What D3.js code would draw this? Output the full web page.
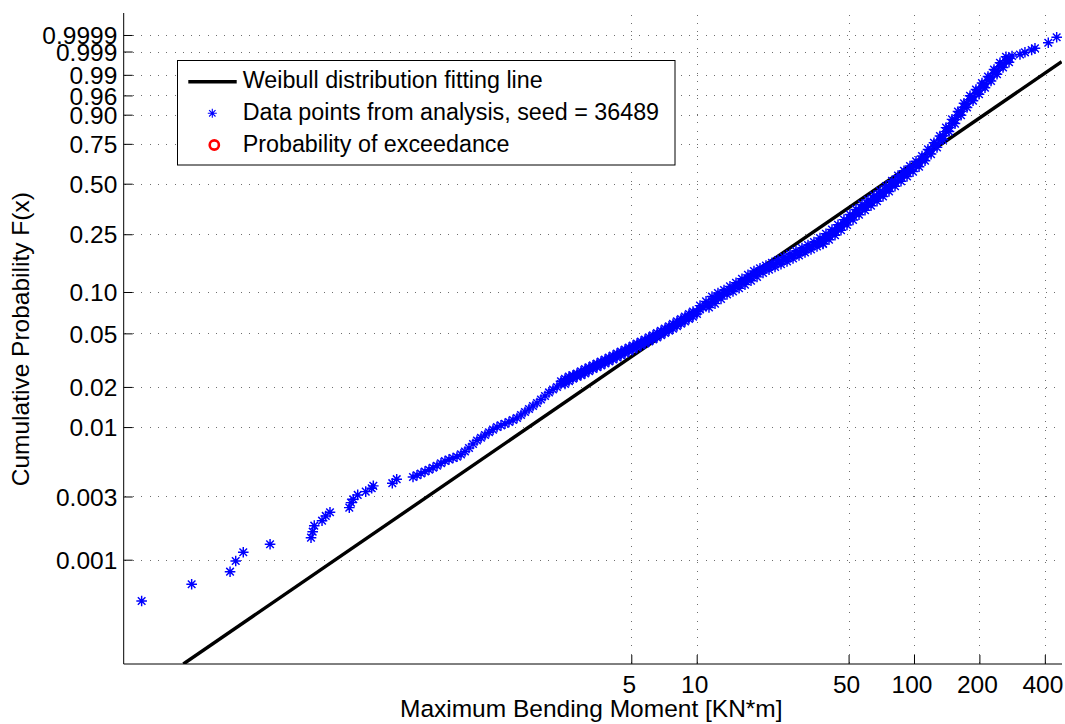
<!DOCTYPE html>
<html><head><meta charset="utf-8">
<script src="https://cdn.jsdelivr.net/npm/d3@7"></script>
<style>
body{margin:0;background:#fff;}
text{font-family:"Liberation Sans",Arial,Helvetica,sans-serif;fill:#000;}
</style></head><body>
<svg id="chart" width="1065" height="724"></svg>
<script>
// ---- data ----
const moment = [
0.0279,0.0474,0.0712,0.0756,0.0819,0.1088,0.1679,0.1709,0.1738,0.1887,0.1963,0.2053,0.2519,0.2565,0.2628,0.2754,0.2998,0.3194,0.3249,0.3973,0.4163,
0.4948,0.5162,0.5386,0.5619,0.5862,0.6116,0.6381,0.6657,0.6945,0.7246,0.7560,0.7887,0.8228,0.8584,0.8957,0.9345,0.9749,1.0171,1.0612,1.1071,1.1550,1.2050,1.2572,1.3116,1.3684,1.4277,1.4895,1.5540,1.6213,1.6915,1.7648,1.8412,1.9209,2.0040,2.0908,2.1814,2.2759,
2.374,2.477,2.584,2.696,2.813,2.935,3.062,3.194,3.333,3.477,3.627,3.785,3.948,4.119,4.298,4.484,4.678,4.880,5.092,5.312,5.542,5.782,6.033,6.294,6.566,6.851,7.147,7.457,7.779,8.116,8.468,8.834,9.217,9.616,10.03,
10.36,10.69,11.04,11.39,11.76,12.14,12.53,12.94,13.36,13.79,14.23,14.69,15.17,15.66,16.16,16.68,17.22,17.78,18.35,18.95,
19.56,20.19,20.84,21.52,22.21,22.93,23.67,24.43,25.22,26.04,26.88,27.75,28.64,29.57,30.52,31.51,32.53,33.58,34.66,35.78,
36.94,38.13,39.36,40.63,41.95,43.30,44.70,46.14,47.63,49.17,50.76,52.40,54.09,55.84,57.64,59.51,61.43,63.41,65.46,67.58,
69.76,72.01,74.34,76.74,79.22,81.78,84.42,87.15,89.96,92.87,95.87,98.96,102.2,105.5,108.9,112.4,116.0,119.8,123.6,127.6,
131.7,136.0,140.4,144.9,149.6,154.4,159.4,164.6,169.9,175.4,181.1,186.9,192.9,199.2,205.6,212.2,219.1,226.2,233.5,241.0,
248.8,256.9,265.1,273.7,282.6,
307.4,324.1,348.0,360.4,415.0,453.6,
36.94,39.36,41.95,44.70,47.63,50.76,54.09,57.64,61.43,65.46,69.76,74.34,79.22,84.42,89.96,95.87,
102.2,108.9,116.0,123.6,131.7,140.4,149.6,159.4,169.9,181.1,192.9,205.6,219.1,233.5,248.8,265.1,
38.13,40.63,43.30,46.14,49.17,52.40,55.84,59.51,63.41,67.58,72.01,76.74,81.78,87.15,92.87,98.96,
105.5,112.4,119.8,127.6,136.0,144.9,154.4,164.6,175.4,186.9,199.2,212.2,226.2,241.0,256.9,273.7,
2.374,2.477,2.584,2.696,2.813,2.935,3.062,3.194,3.333,3.477,3.627,3.785,3.948,4.119,4.298,4.484,4.678,
4.880,5.092,5.312,5.542,5.782,6.033,6.294,6.566,6.851,7.147,7.457,7.779,8.116,8.468,8.834,9.217,9.616,
2.477,2.584,2.696,2.813,2.935,3.062,3.194,3.333,3.477,3.627,3.785,3.948,4.119,4.298,4.484,4.678,4.880,
5.092,5.312,5.542,5.782,6.033,6.294,6.566,6.851,7.147,7.457,7.779,8.116,8.468,8.834,9.217,9.616,10.03,
10.36,11.04,11.76,12.53,13.36,14.23,15.17,16.16,17.22,18.35,19.56,20.84,22.21,23.67,25.22,26.88,28.64,30.52,32.53,34.66,
11.39,12.14,12.94,13.79,14.69,15.66,16.68,17.78,18.95,20.19,21.52,22.93,24.43,26.04,27.75,29.57,31.51,33.58,35.78,38.13];
const prob = [
0.000488,0.000652,0.000812,0.000978,0.001138,0.001308,0.001467,0.001628,0.001807,0.001971,0.002140,0.002283,0.002472,0.002697,0.002861,0.003083,0.003265,0.003463,0.003606,0.003780,0.004052,
0.004208,0.004334,0.004471,0.004629,0.004776,0.004936,0.005119,0.005337,0.005554,0.005700,0.005851,0.005974,0.006228,0.006549,0.006958,0.007455,0.007920,0.008314,0.008712,0.009145,0.009572,0.010012,0.010294,0.010582,0.010916,0.011301,0.011698,0.012320,0.012976,0.013666,0.014392,0.015157,0.016102,0.017105,0.018198,0.019132,0.019973,
0.021037,0.022037,0.023044,0.023891,0.024473,0.025197,0.026167,0.027221,0.028075,0.028956,0.029915,0.030956,0.032034,0.033148,0.034301,0.035493,0.036726,0.038001,0.039319,0.040682,0.042091,0.043548,0.045055,0.046689,0.048467,0.050310,0.052220,0.054200,0.056445,0.058780,0.061213,0.063741,0.066368,0.069330,0.072298,
0.074760,0.077297,0.079776,0.082479,0.085557,0.089036,0.092665,0.095942,0.098345,0.10081,
0.10334,0.10645,0.10964,0.11293,0.11648,0.12035,0.12414,0.12803,0.13225,0.13659,
0.14084,0.14405,0.14708,0.15042,0.15358,0.15680,0.16033,0.16394,0.16789,0.17193,
0.17606,0.18027,0.18457,0.18897,0.19345,0.19802,0.20268,0.20744,0.21228,0.21722,
0.22226,0.22914,0.23692,0.24455,0.25279,0.26163,0.27116,0.28177,0.29266,0.30390,
0.31498,0.32634,0.33847,0.35092,0.36292,0.37406,0.38537,0.39692,0.40923,0.42178,
0.43400,0.44816,0.46260,0.47783,0.49327,0.50895,0.52482,0.53968,0.55463,0.56973,
0.58487,0.60029,0.61564,0.63098,0.64889,0.66994,0.69087,0.71160,0.73198,0.75263,
0.77285,0.79701,0.82002,0.84152,0.86173,0.87919,0.89666,0.91294,0.92696,0.93925,
0.94936,0.95705,0.96412,0.97034,0.97591,0.98055,0.98459,0.98814,0.99095,0.99320,
0.99503,0.99633,0.99720,0.99786,0.99832,
0.99858,0.99890,0.99917,0.99933,0.99968,0.999856,
0.23624,0.25164,0.26829,0.28754,0.31002,0.33335,0.35797,0.38331,0.40655,0.43122,0.45676,0.48609,0.51748,0.54965,0.57983,0.61037,
0.64120,0.67437,0.71593,0.75624,0.79586,0.84096,0.88008,0.91226,0.93954,0.95912,0.97177,0.98158,0.98859,0.99355,0.99661,0.99817,
0.21554,0.23019,0.24643,0.26557,0.28670,0.30827,0.33197,0.35406,0.37611,0.40014,0.42571,0.45453,0.48494,0.51506,0.54466,0.57490,
0.60542,0.64443,0.68645,0.72833,0.77405,0.82066,0.86077,0.89747,0.92669,0.94695,0.96246,0.97465,0.98402,0.99049,0.99465,0.99677,
0.022037,0.023044,0.023891,0.024473,0.025197,0.026167,0.027221,0.028075,0.028956,0.029915,0.030956,0.032034,0.033148,0.034301,0.035493,0.036726,0.038001,
0.039319,0.040682,0.042091,0.043548,0.045055,0.046689,0.048467,0.050310,0.052220,0.054200,0.056445,0.058780,0.061213,0.063741,0.066368,0.069330,0.072298,
0.021037,0.022037,0.023044,0.023891,0.024473,0.025197,0.026167,0.027221,0.028075,0.028956,0.029915,0.030956,0.032034,0.033148,0.034301,0.035493,0.036726,
0.038001,0.039319,0.040682,0.042091,0.043548,0.045055,0.046689,0.048467,0.050310,0.052220,0.054200,0.056445,0.058780,0.061213,0.063741,0.066368,0.069330,
0.079776,0.085557,0.092665,0.098345,0.10334,0.10964,0.11648,0.12414,0.13225,0.14084,0.14708,0.15358,0.16033,0.16789,0.17606,0.18457,0.19345,0.20268,0.21228,0.22226,
0.077297,0.082479,0.089036,0.095942,0.10081,0.10645,0.11293,0.12035,0.12803,0.13659,0.14405,0.15042,0.15680,0.16394,0.17193,0.18027,0.18897,0.19802,0.20744,0.21722];
const fitMoment = [0.0434, 478.3];
const fitProb = [0.000163, 0.99694];
const xTickValues = [5, 10, 50, 100, 200, 400];
const xTickLabels = ["5", "10", "50", "100", "200", "400"];
const yTickValues = [0.001, 0.003, 0.01, 0.02, 0.05, 0.10, 0.25, 0.50, 0.75, 0.90, 0.96, 0.99, 0.999, 0.9999];
const yTickLabels = ["0.001", "0.003", "0.01", "0.02", "0.05", "0.10", "0.25", "0.50", "0.75", "0.90", "0.96", "0.99", "0.999", "0.9999"];
const legendLabels = ["Weibull distribution fitting line", "Data points from analysis, seed = 36489", "Probability of exceedance"];
const xLabel = "Maximum Bending Moment [KN*m]";
const yLabel = "Cumulative Probability F(x)";

// ---- layout ----
const L = 123.7, R = 1062, T = 13, B = 664;
const svg = d3.select("#chart");
const x = d3.scaleLog().domain([0.023069, 479.9]).range([L, R]);
const wbl = p => Math.log10(-Math.log(1 - p));
const yLin = d3.scaleLinear().domain([-3.78772, 1.13032]).range([B, T]);
const y = p => yLin(wbl(p));

svg.append("defs").append("clipPath").attr("id", "plotclip")
  .append("rect").attr("x", L).attr("y", T).attr("width", R - L).attr("height", B - T);

// grid
const grid = svg.append("g").attr("stroke", "#6e6e6e").attr("stroke-width", 1)
  .attr("stroke-dasharray", "1,7.3").attr("shape-rendering", "crispEdges");
grid.selectAll(".gx").data(xTickValues).join("line")
  .attr("x1", d => Math.round(x(d)) + 0.5).attr("x2", d => Math.round(x(d)) + 0.5)
  .attr("y1", B - 1).attr("y2", T);
grid.selectAll(".gy").data(yTickValues).join("line")
  .attr("y1", d => Math.round(y(d)) + 0.5).attr("y2", d => Math.round(y(d)) + 0.5)
  .attr("x1", L + 1).attr("x2", R);

// axes
const fs = 24.5;
const xAxis = d3.axisBottom(x).tickValues(xTickValues).tickFormat((d, i) => xTickLabels[i])
  .tickSizeInner(-9).tickSizeOuter(0).tickPadding(11.6);
const gx = svg.append("g").attr("transform", `translate(0,${B})`).call(xAxis);
const yAxis = d3.axisLeft(yLin).tickValues(yTickValues.map(wbl)).tickFormat((d, i) => yTickLabels[i])
  .tickSizeInner(-9).tickSizeOuter(0).tickPadding(6.4);
const gy = svg.append("g").attr("transform", `translate(${L},0)`).call(yAxis);
gy.select(".domain").attr("d", `M0,${B}V${T}`);
gx.select(".domain").attr("d", `M${L},0H${R}`);
[gx, gy].forEach(g => {
  g.attr("font-family", null).attr("font-size", null);
  g.selectAll("text").attr("font-size", fs).style("fill", "#000");
  g.selectAll("line,path").attr("stroke", "#000");
});
gx.selectAll("text").attr("dx", -2.5);
gy.selectAll("text").attr("dy", "0.355em");

// Weibull fit line
svg.append("path").attr("clip-path", "url(#plotclip)")
  .attr("d", d3.line()(fitMoment.map((m, i) => [x(m), y(fitProb[i])])))
  .attr("stroke", "#000").attr("stroke-width", 3.4).attr("fill", "none");

// data points (asterisk markers)
const star = "M-5.3,0H5.3M0,-5.3V5.3M-3.8,-3.8L3.8,3.8M-3.8,3.8L3.8,-3.8";
svg.append("g").attr("clip-path", "url(#plotclip)")
  .selectAll("path").data(moment).join("path")
  .attr("transform", (m, i) => `translate(${x(m)},${y(prob[i])})`)
  .attr("d", star).attr("stroke", "#0000ff").attr("stroke-width", 1.45).attr("fill", "none");

// labels
svg.append("text").attr("x", 591.3).attr("y", 716.7).attr("text-anchor", "middle")
  .attr("font-size", fs).text(xLabel);
svg.append("text").attr("transform", "translate(29.3,339.2) rotate(-90)").attr("text-anchor", "middle")
  .attr("font-size", fs).text(yLabel);

// legend
const lg = svg.append("g");
lg.append("rect").attr("x", 177.5).attr("y", 60.5).attr("width", 497.5).attr("height", 104.5)
  .attr("fill", "#fff").attr("stroke", "#000").attr("stroke-width", 1);
const rowY = [81.7, 113.3, 145];
lg.append("line").attr("x1", 188.3).attr("x2", 236.7).attr("y1", rowY[0]).attr("y2", rowY[0])
  .attr("stroke", "#000").attr("stroke-width", 3.4);
lg.append("path").attr("transform", `translate(212.3,${rowY[1]})`)
  .attr("d", "M-4.5,0H4.5M0,-4.5V4.5M-3.2,-3.2L3.2,3.2M-3.2,3.2L3.2,-3.2")
  .attr("stroke", "#0000ff").attr("stroke-width", 1.1).attr("fill", "none");
lg.append("circle").attr("cx", 214.3).attr("cy", rowY[2]).attr("r", 4.6)
  .attr("stroke", "#ff0000").attr("stroke-width", 2.6).attr("fill", "none");
lg.selectAll("text.lt").data(legendLabels).join("text").attr("class", "lt")
  .attr("x", 242.7).attr("y", (d, i) => [88.3, 120, 151.7][i])
  .attr("font-size", 23.3).text(d => d);
</script>
</body></html>
